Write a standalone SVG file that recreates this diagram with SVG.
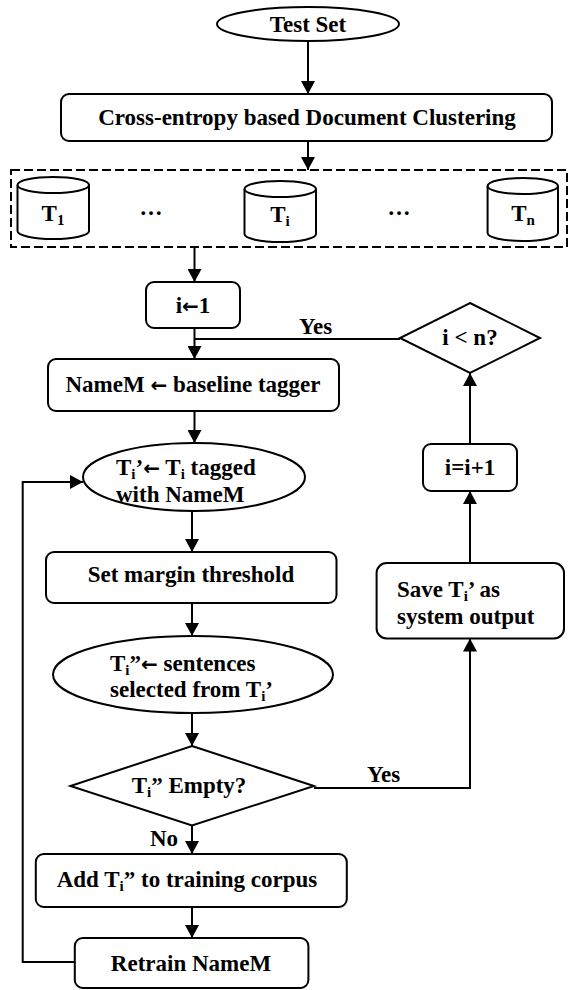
<svg xmlns="http://www.w3.org/2000/svg" width="572" height="990" viewBox="0 0 572 990">
<defs>
<marker id="ah" markerUnits="userSpaceOnUse" markerWidth="13" markerHeight="14" refX="13" refY="7" orient="auto">
<path d="M0,0 L13,7 L0,14 z" fill="#000"/>
</marker>
<style>
.s{fill:#fff;stroke:#000;stroke-width:2}
.c{fill:none;stroke:#000;stroke-width:2}
.t{font-family:"Liberation Serif","Times New Roman",serif;font-weight:bold;font-size:23px;fill:#000}
.m{text-anchor:middle}
.sub{font-size:15px}
.ar{font-family:"DejaVu Sans",sans-serif;font-weight:bold;font-size:20px}
</style>
</defs>
<rect width="572" height="990" fill="#fff"/>
<g id="connectors">
<path class="c" d="M308,41 V94" marker-end="url(#ah)"/>
<path class="c" d="M308,141 V170" marker-end="url(#ah)"/>
<path class="c" d="M194.5,247 V282" marker-end="url(#ah)"/>
<path class="c" d="M194.5,328 V359" marker-end="url(#ah)"/>
<path class="c" d="M400,339 H194.5"/>
<path class="c" d="M194.5,411 V443" marker-end="url(#ah)"/>
<path class="c" d="M192,511 V552" marker-end="url(#ah)"/>
<path class="c" d="M192,603 V636" marker-end="url(#ah)"/>
<path class="c" d="M192,713 V746" marker-end="url(#ah)"/>
<path class="c" d="M314,788 H470 V638.5" marker-end="url(#ah)"/>
<path class="c" d="M470,563 V491" marker-end="url(#ah)"/>
<path class="c" d="M470,444 V373" marker-end="url(#ah)"/>
<path class="c" d="M192,825 V854" marker-end="url(#ah)"/>
<path class="c" d="M192,907 V938" marker-end="url(#ah)"/>
<path class="c" d="M75,962 H22.7 V482 H83" marker-end="url(#ah)"/>
<text class="t" x="299" y="334">Yes</text>
<text class="t" x="367" y="782">Yes</text>
<text class="t" x="150" y="846">No</text>
</g>
<g id="test-set">
<ellipse class="s" cx="308" cy="24" rx="91" ry="17"/>
<text class="t m" x="308" y="31.5">Test Set</text>
</g>
<g id="clustering">
<rect class="s" x="61" y="94" width="491" height="47" rx="8"/>
<text class="t m" x="307" y="125">Cross-entropy based Document Clustering</text>
</g>
<g id="clusters">
<rect x="11" y="170" width="556" height="77" fill="none" stroke="#000" stroke-width="2" stroke-dasharray="9,4"/>
<g id="t1">
<path class="s" d="M17.5,185 V231 A35.75,8 0 0 0 89,231 V185"/>
<ellipse class="s" cx="53.25" cy="185" rx="35.75" ry="8"/>
<text class="t m" x="53" y="221">T<tspan class="sub" dy="4">1</tspan></text>
</g>
<text class="t m" x="151" y="215">…</text>
<g id="ti">
<path class="s" d="M244.5,189 V234 A35.75,8 0 0 0 316,234 V189"/>
<ellipse class="s" cx="280.25" cy="189" rx="35.75" ry="8"/>
<text class="t m" x="280" y="222">T<tspan class="sub" dy="4">i</tspan></text>
</g>
<text class="t m" x="399" y="215">…</text>
<g id="tn">
<path class="s" d="M487.6,186 V233 A35.2,8 0 0 0 558,233 V186"/>
<ellipse class="s" cx="522.8" cy="186" rx="35.2" ry="8"/>
<text class="t m" x="523" y="221">T<tspan class="sub" dy="4">n</tspan></text>
</g>
</g>
<g id="init">
<rect class="s" x="146" y="282" width="94" height="46" rx="8"/>
<text class="t m" x="193" y="313">i<tspan class="ar">←</tspan>1</text>
</g>
<g id="check-n">
<polygon class="s" points="470,303 540,338 470,373 400,338"/>
<text class="t m" x="470" y="345">i &lt; n?</text>
</g>
<g id="baseline">
<rect class="s" x="48" y="359" width="291" height="52" rx="8"/>
<text class="t m" x="193" y="392">NameM <tspan class="ar">←</tspan> baseline tagger</text>
</g>
<g id="tag">
<ellipse class="s" cx="194" cy="477" rx="111" ry="34"/>
<text class="t" x="116" y="475">T<tspan class="sub" dy="4">i</tspan><tspan dy="-4">’</tspan><tspan class="ar">←</tspan> T<tspan class="sub" dy="4">i</tspan><tspan dy="-4"> tagged</tspan></text>
<text class="t" x="116" y="502">with NameM</text>
</g>
<g id="increment">
<rect class="s" x="423" y="444" width="94" height="47" rx="8"/>
<text class="t m" x="470" y="475">i=i+1</text>
</g>
<g id="margin">
<rect class="s" x="46" y="552" width="290.5" height="51" rx="8"/>
<text class="t m" x="191" y="582">Set margin threshold</text>
</g>
<g id="save">
<rect class="s" x="376.6" y="563" width="187.4" height="75.5" rx="10"/>
<text class="t" x="397" y="597">Save T<tspan class="sub" dy="4">i</tspan><tspan dy="-4">’ as</tspan></text>
<text class="t" x="397" y="624">system output</text>
</g>
<g id="select">
<ellipse class="s" cx="193" cy="674.5" rx="140" ry="38.5"/>
<text class="t" x="110" y="671">T<tspan class="sub" dy="4">i</tspan><tspan dy="-4">”</tspan><tspan class="ar">←</tspan> sentences</text>
<text class="t" x="110" y="697">selected from T<tspan class="sub" dy="4">i</tspan><tspan dy="-4">’</tspan></text>
</g>
<g id="empty">
<polygon class="s" points="192,746 314,786 192,825.5 70.4,786"/>
<text class="t m" x="189" y="793">T<tspan class="sub" dy="4">i</tspan><tspan dy="-4">” Empty?</tspan></text>
</g>
<g id="add">
<rect class="s" x="35.8" y="854" width="311" height="53" rx="8"/>
<text class="t m" x="187" y="887">Add T<tspan class="sub" dy="4">i</tspan><tspan dy="-4">” to training corpus</tspan></text>
</g>
<g id="retrain">
<rect class="s" x="74.8" y="938" width="233.6" height="50" rx="8"/>
<text class="t m" x="191" y="971">Retrain NameM</text>
</g>
</svg>
